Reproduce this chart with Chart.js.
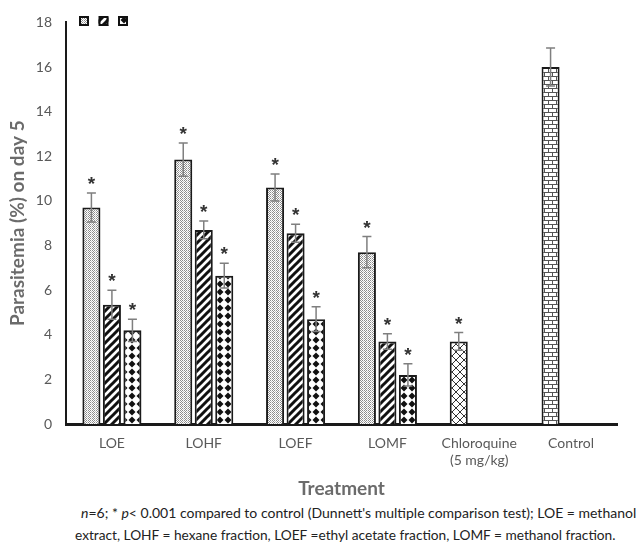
<!DOCTYPE html>
<html>
<head>
<meta charset="utf-8">
<script src="https://cdn.jsdelivr.net/npm/chart.js@4.4.0/dist/chart.umd.min.js"></script>
<style>
body { margin: 0; background: #fff; width: 639px; height: 547px; overflow: hidden; position: relative; font-family: Lato, sans-serif; }
#wrap { position: absolute; left: 0; top: 0; width: 639px; height: 500px; }
.note { position: absolute; font-size: 14px; color: #222; white-space: nowrap; }
</style>
</head>
<body>
<div id="wrap"><canvas id="myChart" width="639" height="500"></canvas></div>
<div class="note" style="left:81px; top:504px"><i>n</i>=6; * <i>p</i>&lt; 0.001 compared to control (Dunnett's multiple comparison test); LOE = methanol</div>
<div class="note" style="left:75px; top:526px; font-size:13.7px">extract, LOHF = hexane fraction, LOEF =ethyl acetate fraction, LOMF = methanol fraction.</div>
<script>
console.log("connected!");

// categories and values
var categories = ["LOE", "LOHF", "LOEF", "LOMF", ["Chloroquine", "(5 mg/kg)"], "Control"];
var seriesA = [9.7, 11.85, 10.6, 7.7, 3.7, 16.0];
var seriesAErr = [0.65, 0.75, 0.6, 0.7, 0.4, 0.85];
var seriesB = [5.35, 8.7, 8.55, 3.7, null, null];
var seriesBErr = [0.65, 0.4, 0.4, 0.35, null, null];
var seriesC = [4.2, 6.65, 4.7, 2.2, null, null];
var seriesCErr = [0.5, 0.55, 0.55, 0.5, null, null];
var starred = [true, true, true, true, true, false];
var yTicks = [0, 2, 4, 6, 8, 10, 12, 14, 16, 18];

var ctx = document.getElementById("myChart").getContext("2d");

function makePattern(w, h, draw) {
    var c = document.createElement("canvas");
    c.width = w;
    c.height = h;
    var g = c.getContext("2d");
    g.fillStyle = "#fff";
    g.fillRect(0, 0, w, h);
    draw(g);
    return ctx.createPattern(c, "repeat");
}

// fine grey dots
var dotPattern = makePattern(4, 2, function(g) {
    g.fillStyle = "#8c8c8c";
    g.fillRect(0, 0, 1, 1);
    g.fillRect(2, 0, 1, 1);
    g.fillRect(1, 1, 1, 1);
    g.fillStyle = "#c4c4c4";
    g.fillRect(3, 1, 1, 1);
});

// wide upward diagonal
var stripePattern = makePattern(8, 8, function(g) {
    g.strokeStyle = "#111";
    g.lineWidth = 3;
    g.beginPath();
    g.moveTo(-2, 10); g.lineTo(10, -2);
    g.moveTo(-6, 6); g.lineTo(6, -6);
    g.moveTo(2, 14); g.lineTo(14, 2);
    g.stroke();
});

// solid diamonds
var diamondPattern = makePattern(8, 8, function(g) {
    g.fillStyle = "#111";
    g.beginPath();
    g.moveTo(4, 0.5); g.lineTo(7.5, 4); g.lineTo(4, 7.5); g.lineTo(0.5, 4);
    g.closePath();
    g.fill();
});

// diagonal cross hatch
var crossPattern = makePattern(8, 8, function(g) {
    g.strokeStyle = "#333";
    g.lineWidth = 1;
    g.beginPath();
    g.moveTo(0, 0); g.lineTo(8, 8);
    g.moveTo(8, 0); g.lineTo(0, 8);
    g.stroke();
});

// horizontal brick
var brickPattern = makePattern(8, 8, function(g) {
    g.fillStyle = "#555";
    g.fillRect(0, 0, 8, 1);
    g.fillRect(0, 4, 8, 1);
    g.fillRect(0, 0, 1, 4);
    g.fillRect(4, 4, 1, 4);
});

var barColorsA = [dotPattern, dotPattern, dotPattern, dotPattern, crossPattern, brickPattern];

// error bars + asterisks
var errorBarsPlugin = {
    id: "errorBars",
    afterDatasetsDraw: function(chart) {
        var c = chart.ctx;
        var yScale = chart.scales.y;
        var errs = [seriesAErr, seriesBErr, seriesCErr];
        c.save();
        chart.data.datasets.forEach(function(ds, di) {
            var meta = chart.getDatasetMeta(di);
            meta.data.forEach(function(bar, i) {
                var v = ds.data[i];
                var e = errs[di][i];
                if (v == null || e == null) return;
                var x = bar.x;
                var yHi = yScale.getPixelForValue(v + e);
                var yLo = yScale.getPixelForValue(v - e);
                c.strokeStyle = "#7f7f7f";
                c.lineWidth = 1.5;
                c.beginPath();
                c.moveTo(x, yLo); c.lineTo(x, yHi);
                c.moveTo(x - 4.5, yHi); c.lineTo(x + 4.5, yHi);
                c.moveTo(x - 4.5, yLo); c.lineTo(x + 4.5, yLo);
                c.stroke();
                if (starred[i]) {
                    c.fillStyle = "#333";
                    c.font = "bold 19px 'Liberation Sans', Arial, sans-serif";
                    c.textAlign = "center";
                    c.textBaseline = "alphabetic";
                    c.fillText("*", x, yHi - 3);
                }
            });
        });
        c.restore();
    }
};

// the three pattern swatches in the top left corner
var swatchPlugin = {
    id: "swatches",
    afterDraw: function(chart) {
        var c = chart.ctx;
        var fills = [dotPattern, stripePattern, diamondPattern];
        c.save();
        for (var i = 0; i < fills.length; i++) {
            var x = 79 + i * 19.5;
            var y = 16;
            c.fillStyle = fills[i];
            c.fillRect(x, y, 10, 10);
            c.strokeStyle = "#111";
            c.lineWidth = 2;
            c.strokeRect(x + 1, y + 1, 8, 8);
        }
        c.restore();
    }
};

var myChart = new Chart(ctx, {
    type: "bar",
    data: {
        labels: categories,
        datasets: [
            { label: "A", data: seriesA, backgroundColor: barColorsA, borderColor: "#1a1a1a", borderWidth: 2 },
            { label: "B", data: seriesB, backgroundColor: stripePattern, borderColor: "#1a1a1a", borderWidth: 2 },
            { label: "C", data: seriesC, backgroundColor: diamondPattern, borderColor: "#1a1a1a", borderWidth: 2 }
        ]
    },
    options: {
        responsive: false,
        animation: false,
        categoryPercentage: 0.67,
        barPercentage: 0.88,
        layout: { padding: { left: 0, right: 22, top: 13, bottom: 0 } },
        plugins: {
            legend: { display: false },
            tooltip: { enabled: false }
        },
        scales: {
            x: {
                grid: { display: false, drawTicks: false },
                border: { display: true, color: "#1a1a1a", width: 3 },
                ticks: { color: "#595959", font: { family: "Lato", size: 14 }, padding: 11, maxRotation: 0, autoSkip: false },
                title: { display: true, text: "Treatment", color: "#6b6b6b", font: { family: "Lato", size: 19, weight: "bold" }, padding: { top: 4, bottom: 0 } },
                afterFit: function(s) { s.height = 76; }
            },
            y: {
                min: 0,
                max: 18,
                afterBuildTicks: function(s) { s.ticks = yTicks.map(function(v) { return { value: v }; }); },
                grid: { display: false, drawTicks: false },
                border: { display: true, color: "#1a1a1a", width: 2 },
                ticks: { color: "#595959", font: { family: "Lato", size: 14 }, padding: 14 },
                title: { display: true, text: "Parasitemia (%) on day 5", color: "#6b6b6b", font: { family: "Lato", size: 19, weight: "bold" }, padding: { top: 6, bottom: 6 } },
                afterFit: function(s) { s.width = 66; }
            }
        }
    },
    plugins: [errorBarsPlugin, swatchPlugin]
});
</script>
</body>
</html>
